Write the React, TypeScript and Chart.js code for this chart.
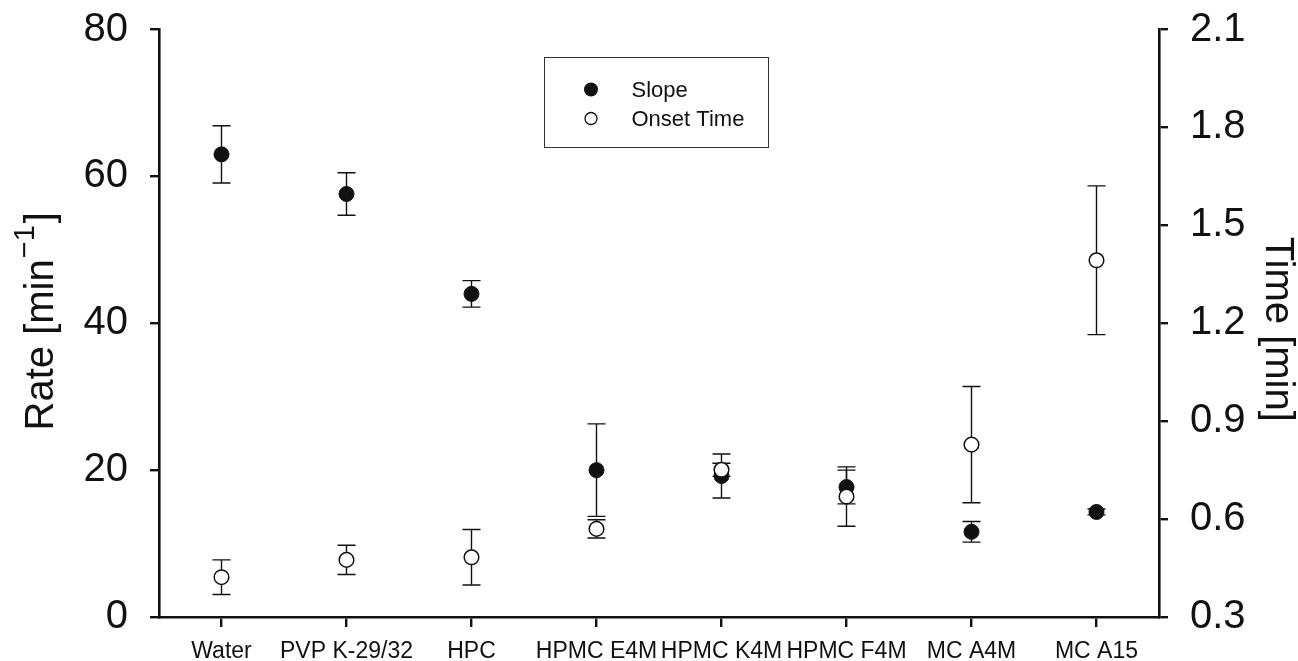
import React, { useEffect, useRef } from "react";
import { Chart, registerables } from "chart.js";

Chart.register(...registerables);

// Sample formulations on the category axis
const categories = [
  "Water",
  "PVP K-29/32",
  "HPC",
  "HPMC E4M",
  "HPMC K4M",
  "HPMC F4M",
  "MC A4M",
  "MC A15",
];

// Slope (rate, min^-1) on the left axis, with its standard deviations
const slope = [63.0, 57.6, 44.0, 20.0, 19.2, 17.7, 11.6, 14.3];
const slopeErr = [3.9, 2.9, 1.8, 6.3, 3.0, 2.3, 1.4, 0.4];

// Onset time (min) on the right axis, with its standard deviations
const onset = [0.422, 0.475, 0.483, 0.57, 0.751, 0.669, 0.828, 1.393];
const onsetErr = [0.053, 0.045, 0.085, 0.028, 0.02, 0.091, 0.178, 0.228];

// Tick values for both value axes
const rateTicks = [0, 20, 40, 60, 80];
const timeTicks = [0.3, 0.6, 0.9, 1.2, 1.5, 1.8, 2.1];

const FONT = "'Liberation Sans', Arial, Helvetica, sans-serif";

// Vertical error bars with caps, drawn under the markers
const errorBars = {
  id: "errorBars",
  beforeDatasetsDraw(chart: any) {
    const ctx = chart.ctx;
    const x = chart.scales.x;
    const sets = [
      { vals: slope, errs: slopeErr, scale: chart.scales.yRate },
      { vals: onset, errs: onsetErr, scale: chart.scales.yTime },
    ];
    ctx.save();
    ctx.strokeStyle = "#111";
    ctx.lineWidth = 1.4;
    const cap = 9;
    sets.forEach(({ vals, errs, scale }) => {
      vals.forEach((v, i) => {
        const px = x.getPixelForValue(i);
        const top = scale.getPixelForValue(v + errs[i]);
        const bot = scale.getPixelForValue(v - errs[i]);
        ctx.beginPath();
        ctx.moveTo(px, top);
        ctx.lineTo(px, bot);
        ctx.moveTo(px - cap, top);
        ctx.lineTo(px + cap, top);
        ctx.moveTo(px - cap, bot);
        ctx.lineTo(px + cap, bot);
        ctx.stroke();
      });
    });
    ctx.restore();
  },
};

// Axis titles (with superscript) and the boxed legend
const decorations = {
  id: "decorations",
  afterDraw(chart: any) {
    const ctx = chart.ctx;
    const area = chart.chartArea;
    ctx.save();
    ctx.fillStyle = "#111";
    ctx.textBaseline = "alphabetic";

    // Left title: Rate [min^-1]
    const main = `40px ${FONT}`;
    const sup = `29px ${FONT}`;
    ctx.font = main;
    const w1 = ctx.measureText("Rate [min").width;
    const w3 = ctx.measureText("]").width;
    ctx.font = sup;
    const w2 = ctx.measureText("\u22121").width + 3;
    const total = w1 + w2 + w3;
    ctx.save();
    ctx.translate(53, (area.top + area.bottom) / 2 - 2);
    ctx.rotate(-Math.PI / 2);
    let cx = -total / 2;
    ctx.font = main;
    ctx.fillText("Rate [min", cx, 0);
    cx += w1;
    ctx.font = sup;
    ctx.fillText("\u22121", cx + 1, -19);
    cx += w2;
    ctx.font = main;
    ctx.fillText("]", cx, 0);
    ctx.restore();

    // Right title: Time [min]
    ctx.save();
    ctx.translate(1266, (area.top + area.bottom) / 2 + 6);
    ctx.rotate(Math.PI / 2);
    ctx.font = main;
    ctx.textAlign = "center";
    ctx.fillText("Time [min]", 0, 0);
    ctx.restore();

    // Legend box
    const bx = 544.5;
    const by = 57.5;
    const bw = 224;
    const bh = 90;
    ctx.strokeStyle = "#333";
    ctx.lineWidth = 1;
    ctx.strokeRect(bx, by, bw, bh);
    const items = [
      { label: "Slope", filled: true, y: by + 32 },
      { label: "Onset Time", filled: false, y: by + 61 },
    ];
    ctx.font = `22px ${FONT}`;
    ctx.textBaseline = "middle";
    ctx.textAlign = "left";
    items.forEach((it) => {
      ctx.beginPath();
      if (it.filled) {
        ctx.arc(bx + 46.5, it.y, 7, 0, Math.PI * 2);
        ctx.fillStyle = "#111";
        ctx.fill();
      } else {
        ctx.arc(bx + 46.5, it.y, 6, 0, Math.PI * 2);
        ctx.fillStyle = "#fff";
        ctx.fill();
        ctx.strokeStyle = "#111";
        ctx.lineWidth = 1.3;
        ctx.stroke();
      }
      ctx.fillStyle = "#111";
      ctx.fillText(it.label, bx + 87, it.y + 1);
    });
    ctx.restore();
  },
};

export default function App() {
  const canvasRef = useRef<HTMLCanvasElement | null>(null);

  useEffect(() => {
    const canvas = canvasRef.current;
    if (!canvas) return;

    const axisBorder = { display: true, color: "#111", width: 2.6 };

    const chart = new Chart(canvas, {
      type: "line",
      data: {
        labels: categories,
        datasets: [
          {
            label: "Slope",
            data: slope,
            yAxisID: "yRate",
            showLine: false,
            pointRadius: 7.5,
            pointBackgroundColor: "#111",
            pointBorderColor: "#111",
            pointBorderWidth: 1,
            order: 1,
          },
          {
            label: "Onset Time",
            data: onset,
            yAxisID: "yTime",
            showLine: false,
            pointRadius: 7.3,
            pointBackgroundColor: "#fff",
            pointBorderColor: "#111",
            pointBorderWidth: 1.5,
            order: 0,
          },
        ],
      },
      options: {
        responsive: false,
        animation: false,
        devicePixelRatio: 1,
        layout: { padding: { top: 29.5, left: 0, right: 0, bottom: 0 } },
        plugins: {
          legend: { display: false },
          tooltip: { enabled: false },
        },
        scales: {
          x: {
            type: "category",
            offset: true,
            border: axisBorder,
            grid: {
              display: true,
              drawOnChartArea: false,
              drawTicks: true,
              tickLength: 10,
              color: "#111",
              lineWidth: 2.4,
              offset: false,
            },
            ticks: {
              color: "#111",
              font: { family: FONT, size: 23 },
              padding: 11,
              maxRotation: 0,
              autoSkip: false,
            },
            afterFit(scale: any) {
              scale.height = 44;
              scale.paddingLeft = 0;
              scale.paddingRight = 0;
            },
          },
          yRate: {
            type: "linear",
            position: "left",
            min: 0,
            max: 80,
            border: axisBorder,
            grid: {
              drawOnChartArea: false,
              drawTicks: true,
              tickLength: 9,
              color: "#111",
              lineWidth: 2.4,
            },
            afterBuildTicks(scale: any) {
              scale.ticks = rateTicks.map((v) => ({ value: v }));
            },
            ticks: {
              color: "#111",
              font: { family: FONT, size: 40 },
              padding: 22,
            },
            afterFit(scale: any) {
              scale.width = 159;
              scale.paddingTop = 0;
              scale.paddingBottom = 0;
            },
          },
          yTime: {
            type: "linear",
            position: "right",
            min: 0.3,
            max: 2.1,
            border: axisBorder,
            grid: {
              drawOnChartArea: false,
              drawTicks: true,
              tickLength: 9,
              color: "#111",
              lineWidth: 2.4,
            },
            afterBuildTicks(scale: any) {
              scale.ticks = timeTicks.map((v) => ({ value: v }));
            },
            ticks: {
              color: "#111",
              font: { family: FONT, size: 40 },
              padding: 22,
              callback: (v: any) => Number(v).toFixed(1),
            },
            afterFit(scale: any) {
              scale.width = 139;
              scale.paddingTop = 0;
              scale.paddingBottom = 0;
            },
          },
        },
      },
      plugins: [errorBars, decorations],
    });

    return () => chart.destroy();
  }, []);

  return (
    <div
      style={{
        position: "absolute",
        left: 0,
        top: 0,
        width: 1298,
        height: 661,
        background: "#fff",
      }}
    >
      <canvas ref={canvasRef} width={1298} height={661} />
    </div>
  );
}
